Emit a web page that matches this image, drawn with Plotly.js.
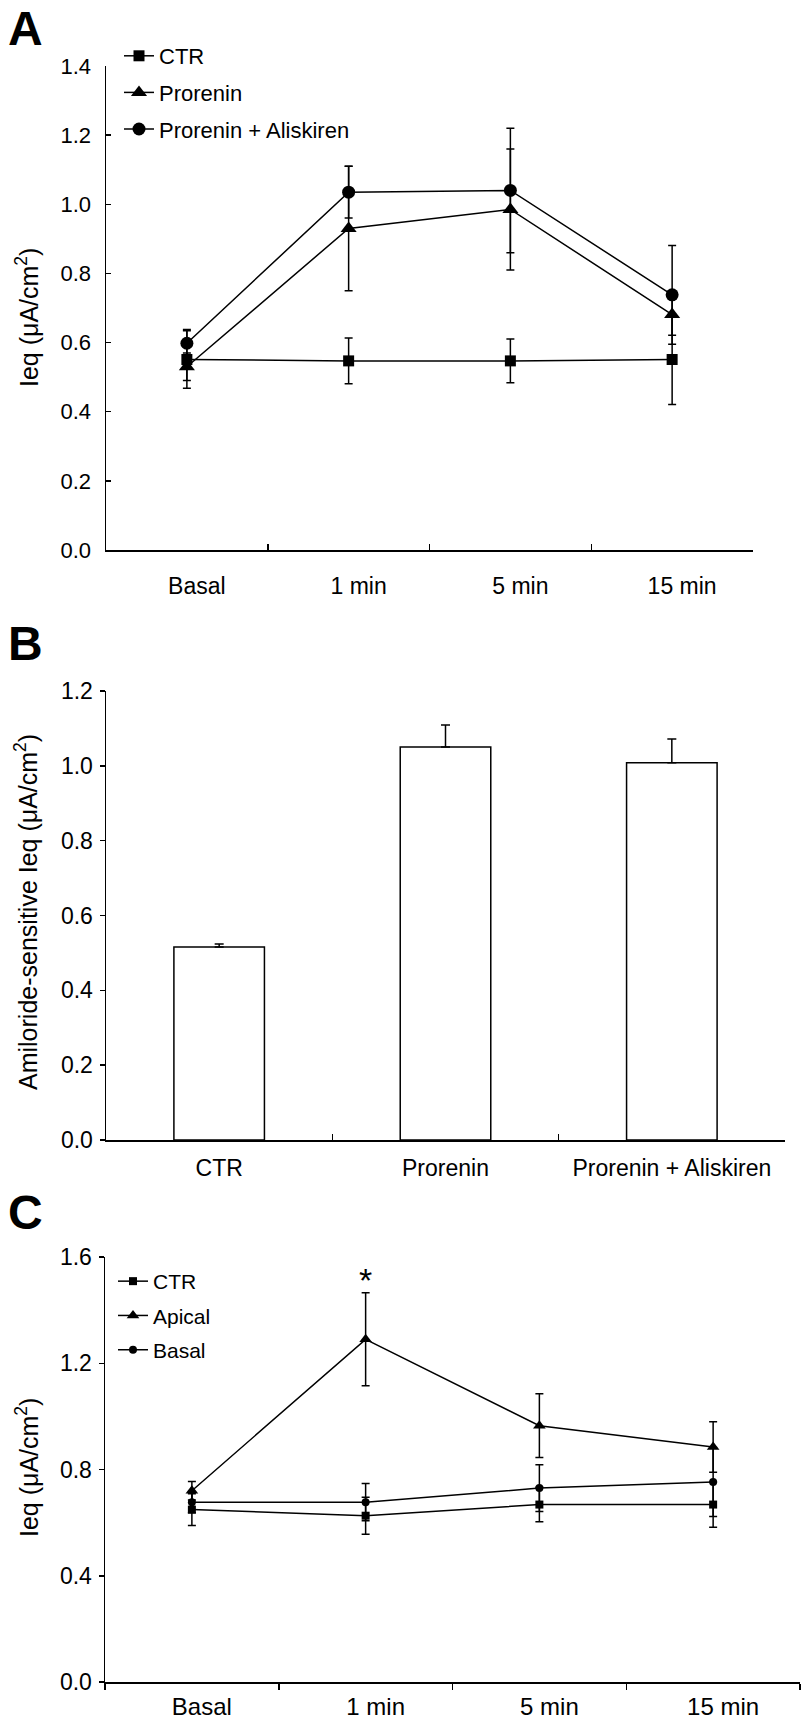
<!DOCTYPE html>
<html>
<head>
<meta charset="utf-8">
<script src="https://cdn.plot.ly/plotly-3.0.1.min.js"></script>
<style>
  html, body { margin: 0; padding: 0; background: #fff; }
  #chart { width: 801px; height: 1725px; }
</style>
</head>
<body>
<div id="chart"></div>
<script>
// ---------- Data ----------
// Panel A
const timeCats = ["Basal", "1 min", "5 min", "15 min"];
const aCtr = [0.551, 0.547, 0.547, 0.551];
const aCtrErr = [0.083, 0.066, 0.063, 0.13];
const aPro = [0.53, 0.93, 0.985, 0.681];
const aProErr = [0.04, 0.18, 0.175, 0.06];
const aAli = [0.598, 1.035, 1.04, 0.738];
const aAliErr = [0.04, 0.075, 0.18, 0.143];
const aNames = ["CTR", "Prorenin", "Prorenin + Aliskiren"];

// Panel B
const bCats = ["CTR", "Prorenin", "Prorenin + Aliskiren"];
const bVals = [0.516, 1.05, 1.008];
const bErr = [0.008, 0.059, 0.064];

// Panel C
const cCtr = [0.649, 0.626, 0.668, 0.668];
const cCtrErr = [0.06, 0.07, 0.065, 0.085];
const cApical = [0.72, 1.29, 0.965, 0.885];
const cApicalErr = [0.035, 0.175, 0.12, 0.095];
const cBasal = [0.677, 0.677, 0.73, 0.753];
const cBasalErr = [0.04, 0.07, 0.088, 0.13];
const cNames = ["CTR", "Apical", "Basal"];

// ---------- Helpers ----------
const W = 801, H = 1725;
const px = v => v / W;
const py = v => 1 - v / H;
const FONT = "Liberation Sans, Arial, Helvetica, sans-serif";
const BLACK = "#000";

function lineTrace(y, err, name, symbol, size, xa, ya, legend, group) {
  return {
    type: "scatter", mode: "lines+markers",
    x: timeCats, y: y, name: name,
    xaxis: xa, yaxis: ya,
    legend: legend, legendgroup: group,
    line: { color: BLACK, width: 1.5 },
    marker: { symbol: symbol, size: size, color: BLACK },
    error_y: { type: "data", array: err, visible: true, color: BLACK, thickness: 1.5, width: 4 },
    cliponaxis: false
  };
}

const traces = [
  lineTrace(aCtr, aCtrErr, aNames[0], "square", 11, "x", "y", "legend", "a1"),
  lineTrace(aPro, aProErr, aNames[1], "triangle-up", 14, "x", "y", "legend", "a2"),
  lineTrace(aAli, aAliErr, aNames[2], "circle", 13, "x", "y", "legend", "a3"),
  {
    type: "bar", x: bCats, y: bVals, xaxis: "x2", yaxis: "y2", showlegend: false,
    width: 0.4,
    marker: { color: "#fff", line: { color: BLACK, width: 1.5 } },
    error_y: { type: "data", array: bErr, arrayminus: bErr.map(() => 0), symmetric: false,
               visible: true, color: BLACK, thickness: 1.5, width: 4.5 }
  },
  lineTrace(cCtr, cCtrErr, cNames[0], "square", 8, "x3", "y3", "legend2", "c1"),
  lineTrace(cApical, cApicalErr, cNames[1], "triangle-up", 11, "x3", "y3", "legend2", "c2"),
  lineTrace(cBasal, cBasalErr, cNames[2], "circle", 8, "x3", "y3", "legend2", "c3")
];

function xAxis(domain, n, ticks, shift, standoff, size) {
  return {
    domain: domain, type: "category", range: [-0.5, n - 0.5],
    showline: true, linecolor: BLACK, linewidth: 1.5,
    ticks: ticks, tickson: "boundaries", ticklen: 6, tickwidth: 1.5, tickcolor: BLACK,
    tickfont: { family: FONT, size: size, color: BLACK },
    ticklabelshift: shift, ticklabelstandoff: standoff,
    showgrid: false, zeroline: false, fixedrange: true
  };
}
function yAxis(domain, max, dtick, ticks, standoff, size) {
  return {
    domain: domain, range: [0, max], dtick: dtick, tick0: 0, tickformat: ".1f",
    showline: true, linecolor: BLACK, linewidth: 1.5,
    ticks: ticks, ticklen: 5, tickwidth: 1.5, tickcolor: BLACK,
    tickfont: { family: FONT, size: size, color: BLACK },
    ticklabelstandoff: standoff,
    showgrid: false, zeroline: false, fixedrange: true
  };
}

const xa = xAxis([px(106), px(753)], timeCats.length, "inside", 10, 15, 23); xa.anchor = "y";
const ya = yAxis([py(550), py(66)], 1.4, 0.2, "inside", 9, 22); ya.anchor = "x";
const xb = xAxis([px(106), px(785)], bCats.length, "inside", 0, 7, 23); xb.anchor = "y2";
const yb = yAxis([py(1140), py(691)], 1.2, 0.2, "outside", 2, 23); yb.anchor = "x2";
const xc = xAxis([px(105), px(800)], timeCats.length, "outside", 10, 3, 24); xc.anchor = "y3";
const yc = yAxis([py(1682), py(1257)], 1.6, 0.4, "outside", 2, 23); yc.anchor = "x3";

function letter(t, x, y) {
  return { text: "<b>" + t + "</b>", xref: "paper", yref: "paper", x: px(x), y: py(y),
           xanchor: "center", yanchor: "middle", showarrow: false,
           font: { family: FONT, size: 48, color: BLACK } };
}
function ytitle(t, x, y) {
  return { text: t, xref: "paper", yref: "paper", x: px(x), y: py(y), textangle: -90,
           xanchor: "center", yanchor: "middle", showarrow: false,
           font: { family: FONT, size: 25, color: BLACK } };
}

const layout = {
  width: W, height: H,
  margin: { l: 0, r: 0, t: 0, b: 0, pad: 0 },
  paper_bgcolor: "#fff", plot_bgcolor: "rgba(0,0,0,0)",
  font: { family: FONT, color: BLACK },
  showlegend: true,
  xaxis: xa, yaxis: ya, xaxis2: xb, yaxis2: yb, xaxis3: xc, yaxis3: yc,
  legend: {
    x: px(119), y: py(35), xanchor: "left", yanchor: "top",
    bgcolor: "rgba(0,0,0,0)", borderwidth: 0,
    font: { family: FONT, size: 22, color: BLACK },
    traceorder: "grouped", tracegroupgap: 5, itemwidth: 30
  },
  legend2: {
    x: px(113), y: py(1261), xanchor: "left", yanchor: "top",
    bgcolor: "rgba(0,0,0,0)", borderwidth: 0,
    font: { family: FONT, size: 21, color: BLACK },
    traceorder: "grouped", tracegroupgap: 4, itemwidth: 30
  },
  annotations: [
    letter("A", 25, 28),
    letter("B", 25, 643),
    letter("C", 25, 1212),
    ytitle("Ieq (μA/cm<sup>2</sup>)", 27, 318),
    ytitle("Amiloride-sensitive Ieq (μA/cm<sup>2</sup>)", 26, 912),
    ytitle("Ieq (μA/cm<sup>2</sup>)", 27, 1468),
    { text: "*", xref: "x3", yref: "y3", x: "1 min", y: 1.515, showarrow: false,
      xanchor: "center", yanchor: "middle", font: { family: FONT, size: 34, color: BLACK } }
  ]
};

Plotly.newPlot("chart", traces, layout, { staticPlot: true, displayModeBar: false });
</script>
</body>
</html>
